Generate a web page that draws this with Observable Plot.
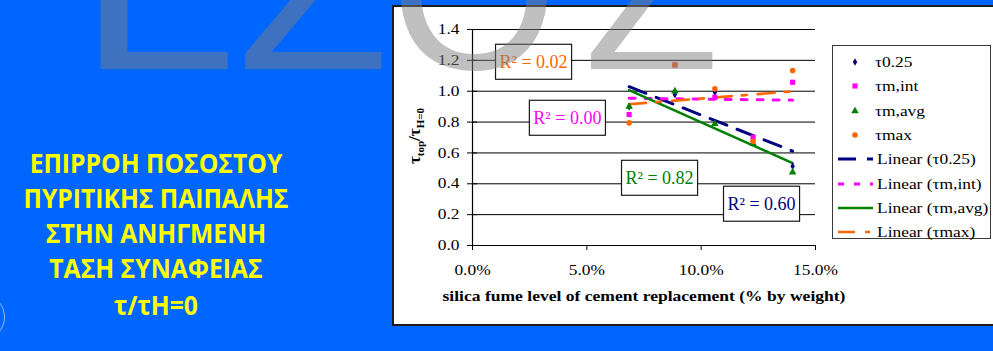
<!DOCTYPE html>
<html><head><meta charset="utf-8">
<script src="https://cdn.jsdelivr.net/npm/d3@7"></script>
<script src="https://cdn.jsdelivr.net/npm/@observablehq/plot@0.6"></script>
<style>
html,body{margin:0;padding:0;}
body{width:993px;height:351px;overflow:hidden;background:#0066ff;position:relative;font-family:"Liberation Serif",serif;}
#logo{position:absolute;left:-43px;top:293px;width:46px;height:46px;border:1.2px solid rgba(255,255,255,0.55);border-radius:50%;}
#panel{position:absolute;left:392px;top:5px;width:640px;height:321px;box-sizing:border-box;border:2px solid #1c1c1c;background:#fff;}
#chart{position:absolute;left:393px;top:6px;}
#legend{position:absolute;left:832px;top:45px;width:159px;height:194px;box-sizing:border-box;border:1px solid #3a3a3a;background:#fff;}
.lg-row{position:absolute;left:0;width:157px;height:20px;}
.lg-row svg{position:absolute;left:4px;top:4px;}
.lg-row span{position:absolute;top:2px;font-family:"Liberation Serif",serif;font-size:15px;line-height:16px;white-space:nowrap;transform:scaleX(1.16);transform-origin:left center;color:#000;}
#overlay{position:absolute;left:0;top:0;pointer-events:none;}
</style></head>
<body>
<div id="logo"></div>
<div id="panel"></div>
<div id="chart"></div>
<div id="legend"></div>
<svg id="overlay" width="993" height="351"></svg>
<script>
// ---------------- data ----------------
const silicaFume = [0.0685, 0.0885, 0.106, 0.1227, 0.140];   // fraction of cement replaced
const tau025  = [0.90, 0.978, 0.994, 0.69, 0.514];
const tauMInt = [0.849, 1.17, 0.961, 0.702, 1.058];
const tauMAvg = [0.90, 1.00, 0.789, 0.66, 0.475];
const tauMax  = [0.795, 1.171, 1.016, 0.676, 1.134];
const seriesNames = ["τ0.25", "τm,int", "τm,avg", "τmax"];
const rSquared = ["0.60", "0.00", "0.82", "0.02"];
const yTicks = [0, 0.2, 0.4, 0.6, 0.8, 1.0, 1.2, 1.4];
const xTicks = [0, 0.05, 0.10, 0.15];
const xTitle = "silica fume level of cement replacement (% by weight)";
const slideLines = ["ΕΠΙΡΡΟΗ ΠΟΣΟΣΤΟΥ", "ΠΥΡΙΤΙΚΗΣ ΠΑΙΠΑΛΗΣ", "ΣΤΗΝ ΑΝΗΓΜΕΝΗ", "ΤΑΣΗ ΣΥΝΑΦΕΙΑΣ", "τ/τH=0"];

// annotation anchors (data units) for the R² boxes
const r2AnchorX = [0.1264, 0.0415, 0.0818, 0.0267];
const r2AnchorY = [0.266, 0.823, 0.434, 1.186];

// ---------------- styles ----------------
const styles = {
  "τ0.25":  {color:"#000080", symbol:"diamond",  r:2.3, dash:"18,11",       width:3},
  "τm,int": {color:"#ff00ff", symbol:"square",   r:2.9, dash:"6,10",        width:3},
  "τm,avg": {color:"#008000", symbol:"triangle", r:2.8, dash:null,          width:2.5},
  "τmax":   {color:"#ff6600", symbol:"circle",   r:2.8, dash:"17,10,5,11",  width:2.6}
};

const seriesValues = [tau025, tauMInt, tauMAvg, tauMax];
const rows = [];
seriesNames.forEach((s, k) => silicaFume.forEach((x, i) => rows.push({series: s, x, y: seriesValues[k][i]})));
const r2Rows = seriesNames.map((s, k) => ({series: s, x: r2AnchorX[k], y: r2AnchorY[k], label: "R² = " + rSquared[k]}));

const marks = [
  Plot.ruleY(yTicks.filter(d => d > 0), {stroke: "#000", strokeWidth: 1}),
  Plot.ruleY([0], {stroke: "#000", strokeWidth: 1.2}),
  Plot.ruleX([0], {stroke: "#000", strokeWidth: 1.2}),
  Plot.axisY({ticks: yTicks, tickSize: 0, tickPadding: 13, tickFormat: d3.format(".1f"), fontSize: 14.5, label: null}),
  Plot.axisY({ticks: yTicks, tickSize: 10, dx: 5, tickFormat: () => "", label: null}),
  Plot.axisX({ticks: xTicks, tickSize: 5, tickPadding: 14, tickFormat: d3.format(".1%"), fontSize: 14.5, label: null}),
];
seriesNames.forEach(s => {
  const st = styles[s];
  marks.push(Plot.linearRegressionY(rows.filter(d => d.series === s), {
    x: "x", y: "y", stroke: st.color, strokeWidth: st.width, ci: 0,
    strokeDasharray: st.dash || undefined
  }));
});
seriesNames.forEach(s => {
  const st = styles[s];
  marks.push(Plot.dot(rows.filter(d => d.series === s), {
    x: "x", y: "y", symbol: () => st.symbol, fill: st.color, stroke: "none", r: st.r
  }));
});
marks.push(Plot.text(r2Rows, {x: "x", y: "y", text: "label", fill: d => styles[d.series].color, fontSize: 18}));
marks.push(Plot.text([xTitle], {frameAnchor: "bottom", dy: 55, text: d => d, fontWeight: "bold", fontSize: 15, fill: "#000"}));

const plot = Plot.plot({
  width: 600, height: 317,
  marginLeft: 79, marginRight: 178, marginTop: 23, marginBottom: 78,
  x: {domain: [0, 0.15]},
  y: {domain: [0, 1.4]},
  symbol: {type: "identity"},
  style: {fontFamily: "Liberation Serif, serif", fontSize: "15px", background: "transparent", color: "#000", overflow: "visible"},
  marks
});
document.getElementById("chart").appendChild(plot);

// ---- post-processing: stretch labels, boxes for R², y label ----
const svg = d3.select(plot);
svg.selectAll("text").filter(function() { return this.textContent === ""; }).remove();
function stretch(sel, k) {
  sel.each(function() {
    const t = this.getAttribute("transform");
    if (t) this.setAttribute("transform", t + ` scale(${k},1)`);
    else {
      const x = +this.getAttribute("x") || 0, y = +this.getAttribute("y") || 0;
      this.setAttribute("x", 0); this.setAttribute("y", 0);
      this.setAttribute("transform", `translate(${x},${y}) scale(${k},1)`);
    }
  });
}
const tickTexts = svg.selectAll("text").filter(function() { return /^\d+\.\d%?$/.test(this.textContent); });
stretch(tickTexts, 1.2);
stretch(svg.selectAll("text").filter(function() { return this.textContent === xTitle; }), 1.17);
svg.selectAll("text").filter(function() { return this.textContent.startsWith("R²"); }).each(function() {
  const b = this.getBBox();
  const rect = document.createElementNS("http://www.w3.org/2000/svg", "rect");
  rect.setAttribute("x", b.x - 4); rect.setAttribute("y", b.y - 8);
  rect.setAttribute("width", b.width + 8); rect.setAttribute("height", b.height + 15);
  rect.setAttribute("fill", "#fff"); rect.setAttribute("stroke", "#1a1a1a"); rect.setAttribute("stroke-width", 1.2);
  const t = this.getAttribute("transform"); if (t) rect.setAttribute("transform", t);
  this.parentNode.insertBefore(rect, this);
});
const yl = svg.append("text")
  .attr("transform", "translate(27,130) rotate(-90)")
  .attr("text-anchor", "middle").attr("font-weight", "bold")
  .attr("font-family", "Liberation Serif, serif").attr("font-size", 17).attr("fill", "#000");
yl.append("tspan").text("τ");
yl.append("tspan").attr("font-size", 11).attr("dy", 4).text("top");
yl.append("tspan").attr("dy", -4).text("/τ");
yl.append("tspan").attr("font-size", 11).attr("dy", 4).text("H=0");

// ---------------- legend ----------------
const legend = d3.select("#legend");
const rowY = i => 16 + i * 24.3;
const symPath = (sym, r) => {
  const map = {circle: d3.symbolCircle, square: d3.symbolSquare, triangle: d3.symbolTriangle, diamond: d3.symbolDiamond};
  return d3.symbol(map[sym], r * r * Math.PI)();
};
seriesNames.forEach((s, i) => {
  const st = styles[s];
  const row = legend.append("div").attr("class", "lg-row").style("top", (rowY(i) - 10) + "px");
  const sv = row.append("svg").attr("width", 36).attr("height", 12);
  sv.append("path").attr("d", symPath(st.symbol, st.r)).attr("transform", "translate(18,6)").attr("fill", st.color);
  row.append("span").style("left", "42px").text(s);
});
seriesNames.forEach((s, i) => {
  const st = styles[s];
  const row = legend.append("div").attr("class", "lg-row").style("top", (rowY(i + 4) - 10) + "px");
  const sv = row.append("svg").attr("width", 36).attr("height", 12);
  sv.append("line").attr("x1", 1).attr("x2", 36).attr("y1", 6).attr("y2", 6)
    .attr("stroke", st.color).attr("stroke-width", st.width).attr("stroke-dasharray", st.dash || null);
  row.append("span").style("left", "44px").text("Linear (" + s + ")");
});

// ---------------- slide text + watermark overlay ----------------
const ov = d3.select("#overlay");
const ctx = document.createElement("canvas").getContext("2d");
ctx.font = 'bold 26.5px "Open Sans"';
const gx = 265 / ctx.measureText(slideLines[1]).width;
const baselines = [173, 208, 243, 278, 315];
slideLines.forEach((line, i) => {
  ov.append("text").attr("transform", `translate(156,${baselines[i]}) scale(${gx},1)`)
    .attr("text-anchor", "middle").attr("font-family", "Open Sans, sans-serif").attr("font-weight", "bold")
    .attr("font-size", 26.5).attr("fill", "#ffff00").text(line);
});
const wm = [{ch: "L", left: 100, right: 228}, {ch: "Z", left: 245, right: 382}, {ch: "O", left: 400, right: 548}, {ch: "Z", left: 591, right: 713}];
const F = 225;
ctx.font = `${F}px "Liberation Sans"`;
wm.forEach(({ch, left, right}) => {
  const m = ctx.measureText(ch);
  const inkW = m.actualBoundingBoxLeft + m.actualBoundingBoxRight;
  const sx = (right - left) / inkW;
  const ox = left + m.actualBoundingBoxLeft * sx;
  ov.append("text").attr("transform", `translate(${ox},69) scale(${sx},1)`)
    .attr("font-family", "Liberation Sans, sans-serif").attr("font-size", F)
    .attr("fill", "rgba(126,126,126,0.49)").text(ch);
});
</script>
</body></html>
